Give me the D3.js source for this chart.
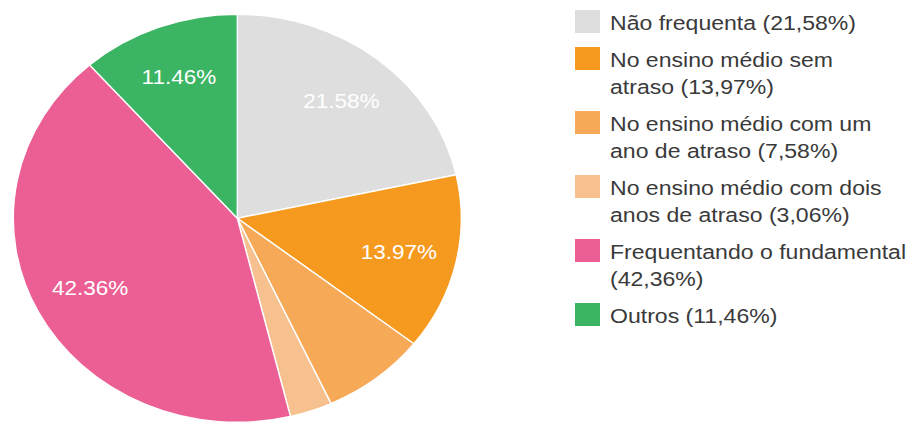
<!DOCTYPE html>
<html>
<head>
<meta charset="utf-8">
<script src="https://cdn.jsdelivr.net/npm/d3@7"></script>
<style>
  html, body { margin: 0; padding: 0; background: #ffffff; }
  svg { display: block; font-family: "Liberation Sans", Arial, sans-serif; }
</style>
</head>
<body>
<svg id="chart" width="914" height="423"></svg>
<script>
// Situação escolar — shares in percent, clockwise from 12 o'clock
const categories = [
  "Não frequenta",
  "No ensino médio sem atraso",
  "No ensino médio com um ano de atraso",
  "No ensino médio com dois anos de atraso",
  "Frequentando o fundamental",
  "Outros"
];
const values = [21.58, 13.97, 7.58, 3.06, 42.36, 11.46];
const colors = ["#dedede", "#f59a1f", "#f6aa58", "#f7c18f", "#eb5f94", "#3bb463"];
// Legend rows as wrapped on screen
const legendLines = [
  ["Não frequenta (21,58%)"],
  ["No ensino médio sem", "atraso (13,97%)"],
  ["No ensino médio com um", "ano de atraso (7,58%)"],
  ["No ensino médio com dois", "anos de atraso (3,06%)"],
  ["Frequentando o fundamental", "(42,36%)"],
  ["Outros (11,46%)"]
];

const svg = d3.select("#chart");
const cx = 237.3, cy = 218.3;
const ry = 204, sx = 1.098;       // drawing is widened horizontally
const labelR = 151;

const data = categories.map((c, i) => ({ name: c, value: values[i], color: colors[i] }));
const pie = d3.pie().sort(null).value(d => d.value);
const arcs = pie(data);
const arc = d3.arc().innerRadius(0).outerRadius(ry);
const labelArc = d3.arc().innerRadius(labelR).outerRadius(labelR);

const pieG = svg.append("g")
  .attr("transform", `translate(${cx},${cy}) scale(${sx},1)`);

pieG.selectAll("path.slice")
  .data(arcs)
  .join("path")
  .attr("class", "slice")
  .attr("d", arc)
  .attr("fill", d => d.data.color)
  .attr("stroke", "#ffffff")
  .attr("stroke-width", 1.4)
  .attr("vector-effect", "non-scaling-stroke");

// Percent labels on the larger slices
const fmt = d3.format(".2f");
svg.append("g").selectAll("text")
  .data(arcs.filter(d => d.data.value >= 10))
  .join("text")
  .attr("transform", d => {
    const [x, y] = labelArc.centroid(d);
    return `translate(${cx + x * sx},${cy + y}) scale(${sx},1)`;
  })
  .attr("text-anchor", "middle")
  .attr("dy", "0.36em")
  .attr("fill", "#ffffff")
  .attr("font-size", 20.5)
  .text(d => fmt(d.data.value) + "%");

// Legend
const lineH = 27, itemGap = 10;
let rowTop = 10;
const legend = svg.append("g");
data.forEach((d, i) => {
  const lines = legendLines[i];
  const g = legend.append("g");
  g.append("rect")
    .attr("x", 575).attr("y", rowTop)
    .attr("width", 25).attr("height", 23)
    .attr("fill", d.color);
  lines.forEach((t, j) => {
    g.append("text")
      .attr("transform", `translate(610,${rowTop + 20 + j * lineH}) scale(${sx},1)`)
      .attr("fill", "#3a3a3a")
      .attr("font-size", 21)
      .text(t);
  });
  rowTop += lines.length * lineH + itemGap;
});
</script>
</body>
</html>
